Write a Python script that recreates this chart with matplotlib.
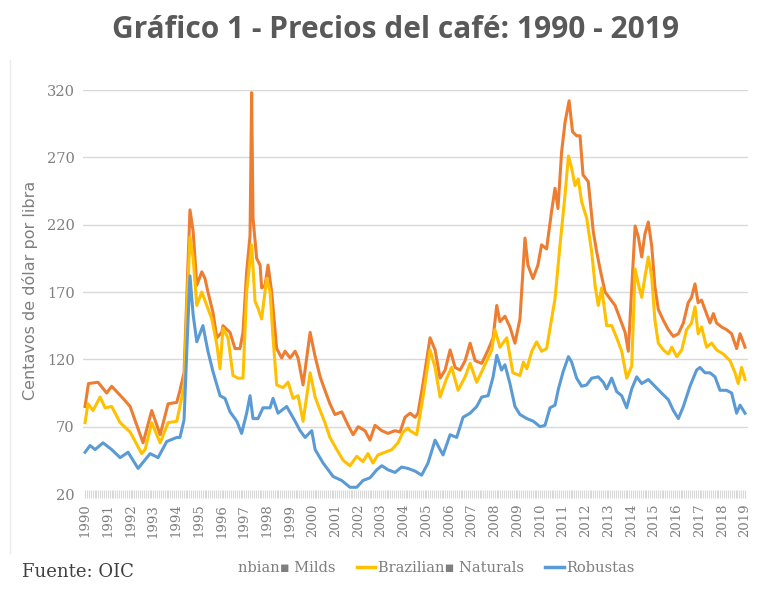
import numpy as np
import matplotlib
matplotlib.use("Agg")
import matplotlib.pyplot as plt
from matplotlib.lines import Line2D

# ICO indicator prices, US cents per lb
milds_year = [1990.00, 1990.15, 1990.57, 1990.95, 1991.17, 1991.67, 1991.98, 1992.55, 1992.93, 1993.30,
              1993.65, 1994.03, 1994.17, 1994.35, 1994.48, 1994.61, 1994.75, 1994.91, 1995.13, 1995.27,
              1995.40, 1995.62, 1995.79, 1996.01, 1996.06, 1996.37, 1996.59, 1996.81, 1996.94, 1997.10,
              1997.25, 1997.32, 1997.38, 1997.54, 1997.69, 1997.76, 1997.91, 1998.04, 1998.20, 1998.42,
              1998.64, 1998.79, 1999.01, 1999.23, 1999.36, 1999.58, 1999.89, 2000.11, 2000.33, 2000.54,
              2000.76, 2000.98, 2001.28, 2001.56, 2001.78, 2002.00, 2002.30, 2002.52, 2002.74, 2003.04,
              2003.31, 2003.62, 2003.84, 2004.06, 2004.28, 2004.50, 2004.63, 2004.85, 2005.16, 2005.38,
              2005.60, 2005.82, 2006.04, 2006.26, 2006.48, 2006.70, 2006.92, 2007.14, 2007.43, 2007.71,
              2007.93, 2008.09, 2008.23, 2008.45, 2008.67, 2008.89, 2009.11, 2009.33, 2009.46, 2009.68,
              2009.90, 2010.06, 2010.28, 2010.50, 2010.65, 2010.78, 2010.94, 2011.09, 2011.27, 2011.42,
              2011.60, 2011.75, 2011.88, 2012.11, 2012.33, 2012.48, 2012.63, 2012.85, 2013.07, 2013.29,
              2013.51, 2013.73, 2013.87, 2014.02, 2014.17, 2014.31, 2014.46, 2014.60, 2014.75, 2014.90,
              2015.04, 2015.19, 2015.41, 2015.63, 2015.85, 2016.07, 2016.29, 2016.50, 2016.65, 2016.80,
              2016.94, 2017.09, 2017.24, 2017.46, 2017.61, 2017.75, 2017.97, 2018.19, 2018.41, 2018.63,
              2018.78, 2019.00]
milds_val = [85, 102, 103, 95, 100, 91, 85, 58, 82, 64,
             87, 88, 97, 110, 170, 231, 215, 175, 185, 180,
             170, 155, 136, 140, 145, 140, 128, 128, 140, 185,
             212, 318, 225, 195, 190, 173, 175, 190, 170, 128,
             121, 126, 121, 126, 121, 101, 140, 122, 107, 97,
             87, 79, 81, 71, 64, 70, 67, 60, 71, 67,
             65, 67, 66, 77, 80, 77, 80, 102, 136, 127,
             106, 112, 127, 114, 112, 119, 132, 119, 117, 127,
             136, 160, 148, 152, 144, 132, 150, 210, 190, 180,
             190, 205, 202, 230, 247, 232, 274, 296, 312, 289,
             286, 286, 257, 252, 215, 200, 187, 170, 165, 160,
             150, 140, 126, 172, 219, 211, 196, 213, 222, 204,
             174, 157, 149, 142, 137, 139, 147, 162, 166, 176,
             162, 164, 157, 147, 154, 147, 144, 142, 139, 128,
             139, 129]

naturals_year = [1990.00, 1990.13, 1990.35, 1990.66, 1990.88, 1991.17, 1991.54, 1991.98, 1992.49, 1992.64,
                 1992.93, 1993.30, 1993.65, 1994.03, 1994.17, 1994.35, 1994.48, 1994.61, 1994.75, 1994.91,
                 1995.13, 1995.35, 1995.57, 1995.79, 1995.93, 1996.06, 1996.28, 1996.50, 1996.72, 1996.94,
                 1997.10, 1997.32, 1997.47, 1997.60, 1997.76, 1997.98, 1998.13, 1998.26, 1998.42, 1998.70,
                 1998.92, 1999.14, 1999.36, 1999.58, 1999.89, 2000.11, 2000.33, 2000.54, 2000.76, 2001.06,
                 2001.34, 2001.64, 2001.94, 2002.21, 2002.43, 2002.65, 2002.87, 2003.18, 2003.48, 2003.75,
                 2003.97, 2004.19, 2004.28, 2004.57, 2004.85, 2005.16, 2005.38, 2005.60, 2005.89, 2006.11,
                 2006.39, 2006.70, 2006.92, 2007.21, 2007.49, 2007.87, 2008.01, 2008.23, 2008.53, 2008.80,
                 2009.11, 2009.26, 2009.41, 2009.63, 2009.84, 2010.06, 2010.28, 2010.50, 2010.65, 2010.87,
                 2011.09, 2011.24, 2011.38, 2011.53, 2011.67, 2011.82, 2012.04, 2012.26, 2012.41, 2012.55,
                 2012.70, 2012.92, 2013.14, 2013.36, 2013.58, 2013.80, 2014.02, 2014.17, 2014.31, 2014.46,
                 2014.60, 2014.75, 2014.90, 2015.04, 2015.19, 2015.41, 2015.63, 2015.78, 2016.00, 2016.22,
                 2016.43, 2016.65, 2016.80, 2016.94, 2017.09, 2017.31, 2017.53, 2017.75, 2018.04, 2018.34,
                 2018.56, 2018.70, 2018.85, 2019.00]
naturals_val = [73, 87, 82, 92, 84, 85, 73, 66, 50, 53,
                73, 58, 73, 74, 85, 100, 160, 211, 195, 160,
                170, 160, 150, 131, 113, 143, 136, 108, 106, 106,
                170, 205, 163, 158, 150, 180, 170, 136, 101, 99,
                103, 91, 93, 74, 110, 92, 82, 73, 62, 53,
                45, 41, 48, 44, 50, 43, 49, 51, 53, 58,
                66, 69, 67, 64, 92, 127, 114, 92, 106, 114,
                97, 107, 117, 103, 113, 127, 142, 129, 136, 110,
                108, 118, 113, 126, 133, 126, 128, 150, 165, 205,
                242, 271, 262, 249, 254, 237, 225, 200, 175, 160,
                173, 145, 145, 136, 126, 106, 115, 187, 176, 166,
                181, 196, 181, 149, 132, 127, 124, 129, 122, 127,
                142, 147, 159, 139, 144, 129, 132, 127, 124, 119,
                110, 102, 114, 105]

robustas_year = [1990.00, 1990.22, 1990.44, 1990.79, 1991.17, 1991.54, 1991.89, 1992.33, 1992.86, 1993.21,
                 1993.59, 1994.03, 1994.17, 1994.35, 1994.48, 1994.61, 1994.75, 1994.91, 1995.18, 1995.40,
                 1995.62, 1995.93, 1996.15, 1996.37, 1996.67, 1996.88, 1997.10, 1997.25, 1997.38, 1997.60,
                 1997.82, 1998.13, 1998.26, 1998.48, 1998.86, 1999.23, 1999.45, 1999.67, 1999.96, 2000.11,
                 2000.46, 2000.90, 2001.28, 2001.64, 2001.94, 2002.21, 2002.52, 2002.82, 2003.04, 2003.31,
                 2003.62, 2003.91, 2004.19, 2004.50, 2004.79, 2005.07, 2005.38, 2005.60, 2005.73, 2006.04,
                 2006.33, 2006.61, 2006.92, 2007.21, 2007.43, 2007.71, 2007.93, 2008.09, 2008.30, 2008.45,
                 2008.67, 2008.89, 2009.11, 2009.41, 2009.70, 2009.99, 2010.21, 2010.43, 2010.65, 2010.80,
                 2011.01, 2011.24, 2011.38, 2011.60, 2011.82, 2012.04, 2012.26, 2012.55, 2012.77, 2012.92,
                 2013.14, 2013.36, 2013.58, 2013.80, 2014.02, 2014.24, 2014.46, 2014.75, 2015.04, 2015.33,
                 2015.63, 2015.85, 2016.07, 2016.29, 2016.58, 2016.87, 2017.02, 2017.24, 2017.46, 2017.68,
                 2017.90, 2018.19, 2018.41, 2018.63, 2018.78, 2019.00]
robustas_val = [51, 56, 53, 58, 53, 47, 51, 39, 50, 47,
                59, 62, 62, 75, 130, 182, 153, 133, 145, 126,
                111, 93, 91, 81, 74, 65, 80, 93, 76, 76,
                84, 84, 91, 80, 85, 74, 67, 62, 67, 53,
                43, 33, 30, 25, 25, 30, 32, 38, 41, 38,
                36, 40, 39, 37, 34, 43, 60, 53, 49, 64,
                62, 77, 80, 85, 92, 93, 107, 123, 112, 116,
                102, 85, 79, 76, 74, 70, 71, 84, 86, 98,
                111, 122, 118, 106, 100, 101, 106, 107, 103, 98,
                106, 96, 93, 84, 98, 107, 102, 105, 100, 95,
                90, 82, 76, 85, 100, 112, 114, 110, 110, 107,
                97, 97, 95, 80, 86, 80]

years = list(range(1990, 2020))
y_ticks = [20, 70, 120, 170, 220, 270, 320]

serif = ['DejaVu Serif', 'DejaVu Sans']
grey = '#595959'
light = '#7f7f7f'

fig = plt.figure(figsize=(7.67, 5.90), dpi=100)
ax = fig.add_axes([83 / 767, 96 / 590, 665 / 767, 404 / 590])

ax.plot(milds_year, milds_val, color='#ED7D31', lw=2.2, label='Colombian Milds', zorder=3)
ax.plot(naturals_year, naturals_val, color='#FFC000', lw=2.2, label='Brazilian Naturals', zorder=4)
ax.plot(robustas_year, robustas_val, color='#5B9BD5', lw=2.2, label='Robustas', zorder=5)

ax.set_xlim(1989.91, 2019.13)
ax.set_ylim(20, 320)
for s in ax.spines.values():
    s.set_visible(False)

ax.set_yticks(y_ticks)
ax.set_yticklabels([str(v) for v in y_ticks], fontfamily=serif, fontsize=10.5, color=light)
ax.tick_params(axis='y', length=0, pad=6)
for v in y_ticks[1:]:
    ax.axhline(v, color='#d9d9d9', lw=1, zorder=1)

# monthly category ticks make the grey band along the bottom
ax.set_xticks(years)
ax.set_xticks(np.arange(1990, 2019.01, 1 / 12), minor=True)
ax.set_xticklabels([str(y) for y in years], rotation=90, fontfamily=serif, fontsize=9.5, color=light)
ax.tick_params(axis='x', which='both', direction='inout', length=6, width=0.8, color='#d9d9d9', pad=4)

fig.text(0.515, 0.949, 'Gráfico 1 - Precios del café: 1990 - 2019', ha='center', va='center',
         fontsize=21.5, fontweight='bold', color=grey, fontfamily='Open Sans')
fig.text(0.039, 0.508, 'Centavos de dólar por libra', rotation=90, ha='center', va='center',
         fontsize=11.5, color=light, fontfamily='DejaVu Sans')
fig.text(22 / 767, 1 - 572 / 590, 'Fuente: OIC', ha='left', va='center',
         fontsize=13, color='#404040', fontfamily=serif)

handles = [Line2D([], [], color='none'),
           Line2D([], [], color='#FFC000', lw=2.5),
           Line2D([], [], color='#5B9BD5', lw=2.5)]
labels = ['nbian\u25aa Milds', 'Brazilian\u25aa Naturals', 'Robustas']
fig.legend(handles, labels, loc='center', bbox_to_anchor=(426 / 767, 1 - 568 / 590), ncol=3,
           frameon=False, handlelength=1.25, handletextpad=0.2, columnspacing=1.45,
           prop={'family': serif, 'size': 10.5}, labelcolor=light)

fig.add_artist(Line2D([10 / 767, 10 / 767], [1 - 553 / 590, 1 - 60 / 590], color='#ebebeb', lw=1))

fig.savefig('out.png', dpi=100)
